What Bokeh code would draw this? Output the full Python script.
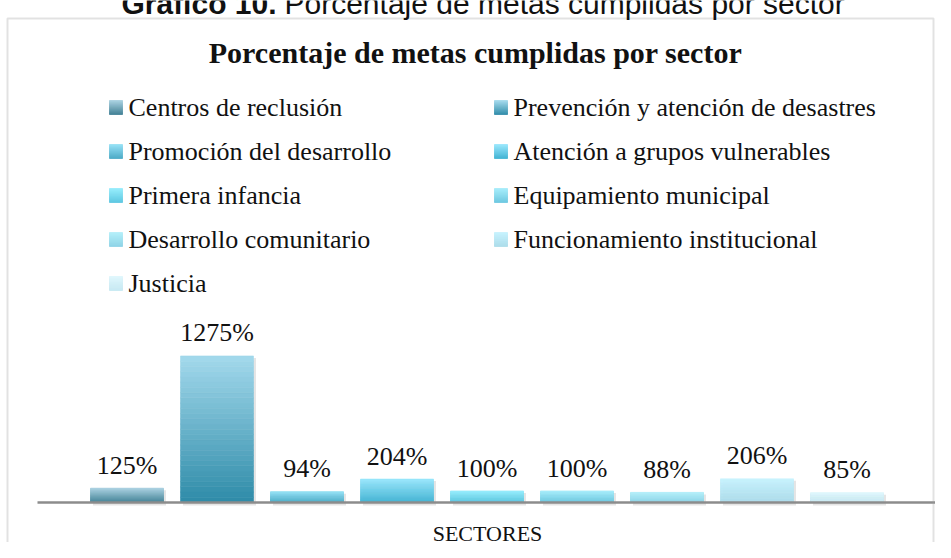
from bokeh.plotting import figure
from bokeh.models import Range1d, Label, BoxAnnotation
from bokeh.core.properties import value
from bokeh.embed import file_html
from bokeh.resources import INLINE

# ---------------- data ----------------
sectors = [
    "Centros de reclusión",
    "Prevención y atención de desastres",
    "Promoción del desarrollo",
    "Atención a grupos vulnerables",
    "Primera infancia",
    "Equipamiento municipal",
    "Desarrollo comunitario",
    "Funcionamiento institucional",
    "Justicia",
]
values = [125, 1275, 94, 204, 100, 100, 88, 206, 85]
value_labels = ["125%", "1275%", "94%", "204%", "100%", "100%", "88%", "206%", "85%"]
color_bottom = ["#3f7f94", "#2e8ba8", "#4aa9c5", "#3fb2d2", "#5cc6e0",
                "#6cc7df", "#8dd3e6", "#acdbea", "#c6e8f2"]
color_top = ["#a8d0e0", "#a3d9ec", "#94e0f5", "#98e6fc", "#95ecfc",
             "#a5ecfb", "#b3eef9", "#c6f2fd", "#def6fc"]

heading_bold = "Gráfico 10."
heading_rest = "Porcentaje de metas cumplidas por sector"
chart_title = "Porcentaje de metas cumplidas por sector"
x_label = "SECTORES"

# ---------------- layout helpers ----------------
W, H = 935, 542
XS = 90.0          # px per category slot
X_FIRST = 126.5    # px of first bar centre
BASE = 502.0       # px (from top) of baseline
YS = 8.70          # percent per px


def dx(px):
    return (px - X_FIRST) / XS


def dy(py):
    return (BASE - py) * YS


def hex2rgb(h):
    h = h.lstrip("#")
    return [int(h[i:i + 2], 16) for i in (0, 2, 4)]


def mix(c0, c1, t):
    a, b = hex2rgb(c0), hex2rgb(c1)
    return "#%02x%02x%02x" % tuple(int(round(a[i] + (b[i] - a[i]) * t)) for i in range(3))


p = figure(width=W, height=H,
           x_range=Range1d(dx(0), dx(W)),
           y_range=Range1d(dy(H), dy(0)),
           x_axis_type=None, y_axis_type=None,
           output_backend="svg", toolbar_location=None,
           min_border=0, outline_line_color=None)
p.grid.visible = False
p.background_fill_color = "white"
p.border_fill_color = "white"

SERIF = "Liberation Serif"
SANS = "Liberation Sans"
TXT = "#111111"

# outer chart box
p.add_layout(BoxAnnotation(left=dx(7), right=dx(933), top=dy(18), bottom=dy(600),
                           fill_alpha=0, line_color="#a0a0a0", line_width=2))

# heading (cut off at the top of the page, as in the original)
p.add_layout(Label(x=dx(276), y=dy(3), text=heading_bold, text_font=SANS,
                   text_font_size="30px", text_font_style="bold",
                   text_align="right", text_baseline="middle", text_color=TXT))
p.add_layout(Label(x=dx(284), y=dy(3), text=heading_rest, text_font=SANS,
                   text_font_size="30px", text_align="left",
                   text_baseline="middle", text_color=TXT))

# chart title
p.add_layout(Label(x=dx(475), y=dy(52), text=chart_title, text_font=SERIF,
                   text_font_size="30px", text_font_style="bold",
                   text_align="center", text_baseline="middle", text_color=TXT))

# legend (2 columns, gradient swatches)
NSTRIP = 28
for i, name in enumerate(sectors):
    col, row = i % 2, i // 2
    cy = 107 + 44 * row
    sx = 109 if col == 0 else 494
    tx = 128 if col == 0 else 513
    lefts, rights, tops, bottoms, cols = [], [], [], [], []
    for k in range(NSTRIP):
        y_b = cy + 7 - 14 * k / NSTRIP
        y_t = cy + 7 - 14 * (k + 1) / NSTRIP
        lefts.append(dx(sx)); rights.append(dx(sx + 13))
        bottoms.append(dy(y_b)); tops.append(dy(y_t))
        cols.append(mix(color_bottom[i], color_top[i], (k + 0.5) / NSTRIP))
    p.quad(left=lefts, right=rights, top=tops, bottom=bottoms,
           fill_color=cols, line_color=cols, line_width=0.6)
    p.add_layout(Label(x=dx(tx), y=dy(cy), text=name, text_font=SERIF,
                       text_font_size="26px", text_align="left",
                       text_baseline="middle", text_color=TXT))

# bar shadows
xs = list(range(len(values)))
p.vbar(x=[x + 2.5 / XS for x in xs], width=73 / XS, bottom=-3 * YS,
       top=[v - 2 * YS for v in values], fill_color="#b5b5b5", fill_alpha=0.35,
       line_color=None)

# bars with vertical gradient
sx_, sb_, st_, sc_ = [], [], [], []
for i, v in enumerate(values):
    for k in range(NSTRIP):
        sx_.append(i)
        sb_.append(v * k / NSTRIP)
        st_.append(v * (k + 1) / NSTRIP)
        sc_.append(mix(color_bottom[i], color_top[i], (k + 0.5) / NSTRIP))
p.vbar(x=sx_, width=73 / XS, bottom=sb_, top=st_, fill_color=sc_,
       line_color=sc_, line_width=0.6)

# baseline axis line
p.segment(x0=[dx(37)], x1=[dx(936)], y0=[0], y1=[0], line_color="#8c8c8c", line_width=2.5)

# value labels
p.text(x=xs, y=[v + 23 * YS for v in values], text=value_labels,
       text_font=value(SERIF), text_font_size="26px", text_align="center",
       text_baseline="middle", text_color=TXT)

# x axis label
p.add_layout(Label(x=dx(487), y=dy(533), text=x_label, text_font=SERIF,
                   text_font_size="22px", text_align="center",
                   text_baseline="middle", text_color=TXT))

open("out.html", "w").write(file_html(p, INLINE))
